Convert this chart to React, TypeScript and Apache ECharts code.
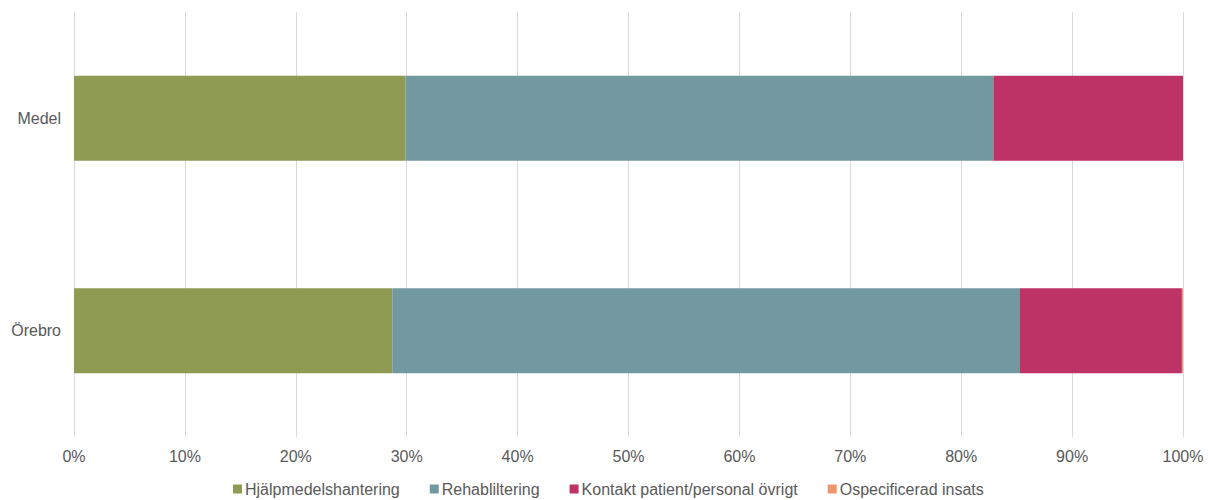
import React, { useEffect, useRef } from "react";
import * as echarts from "echarts";

const categories = ["Örebro", "Medel"];
const seriesNames = [
  "Hjälpmedelshantering",
  "Rehabliltering",
  "Kontakt patient/personal övrigt",
  "Ospecificerad insats",
];
const hjalpmedel = [28.7, 29.9];
const rehab = [56.6, 53.0];
const kontakt = [14.6, 17.1];
const ospecificerad = [0.1, 0];
const colors = ["#8F9A53", "#7399A0", "#BE3366", "#F0946E"];

export default function App() {
  const ref = useRef<HTMLDivElement>(null);
  useEffect(() => {
    if (!ref.current) return;
    const chart = echarts.init(ref.current, null, { renderer: "svg" });
    const values = [hjalpmedel, rehab, kontakt, ospecificerad];
    chart.setOption({
      animation: false,
      textStyle: { fontFamily: "Liberation Sans" },
      grid: { left: 74, right: 29, top: 12, bottom: 63, containLabel: false },
      legend: {
        top: 481,
        left: 233,
        padding: 0,
        itemWidth: 9,
        itemHeight: 9,
        itemGap: 30,
        icon: "rect",
        textStyle: { color: "#595959", fontSize: 16, fontFamily: "Liberation Sans", padding: [0, 0, 0, -2] },
        data: seriesNames,
      },
      xAxis: {
        type: "value",
        min: 0,
        max: 100,
        interval: 10,
        axisLabel: {
          formatter: "{value}%",
          color: "#595959",
          fontSize: 16,
          margin: 11,
          fontFamily: "Liberation Sans",
        },
        axisLine: { show: false },
        axisTick: { show: false },
        splitLine: { lineStyle: { color: "#D9D9D9", width: 1 } },
      },
      yAxis: {
        type: "category",
        data: categories,
        axisLabel: { color: "#595959", fontSize: 16, margin: 13, fontFamily: "Liberation Sans" },
        axisLine: { show: false },
        axisTick: { show: false },
      },
      series: seriesNames.map((name, i) => ({
        name,
        type: "bar",
        stack: "total",
        barWidth: "40%",
        data: values[i],
        itemStyle: { color: colors[i] },
      })),
    });
    return () => chart.dispose();
  }, []);
  return (
    <div
      ref={ref}
      style={{ width: 1212, height: 500, marginTop: -8, marginLeft: -8 }}
    />
  );
}
